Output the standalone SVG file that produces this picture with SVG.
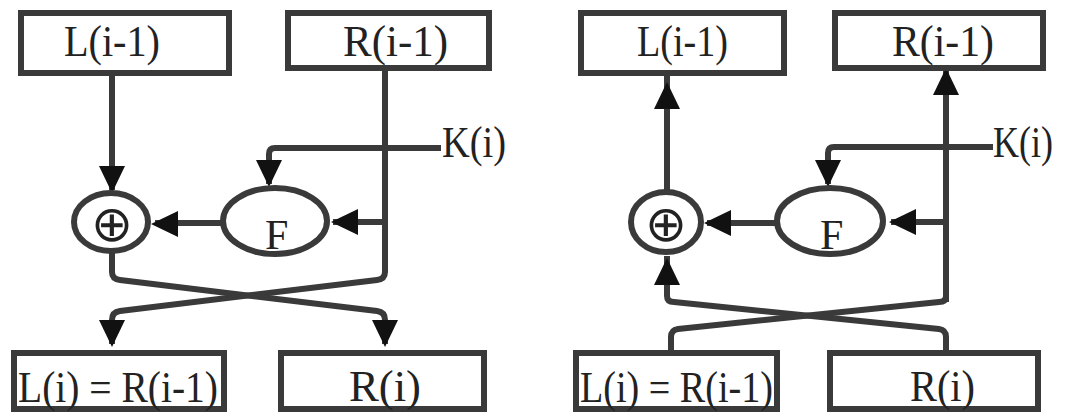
<svg xmlns="http://www.w3.org/2000/svg" width="1065" height="412" viewBox="0 0 1065 412">
<defs>
<style>
.box{fill:#fff;stroke:#3a3a3a;stroke-width:6}
.ell{fill:#fff;stroke:#3a3a3a;stroke-width:6}
.ln{fill:none;stroke:#3a3a3a;stroke-width:6;stroke-linejoin:round}
.t{font-family:"Liberation Serif","Times New Roman",serif;font-size:44px;fill:#222}
.f{font-family:"Liberation Serif","Times New Roman",serif;font-size:42px;fill:#222}
.x{font-family:"DejaVu Sans",sans-serif;font-size:50px;fill:#222;text-anchor:middle}
.ah{fill:#111}
</style>
<path id="ah" d="M0,0 L-27,-13 L-27,13 Z"/>
</defs>
<rect width="1065" height="412" fill="#fff"/>

<g id="connectors">
  <!-- left: encryption -->
  <path class="ln" d="M112,76 V190"/>
  <path class="ln" d="M385,71 V272 Q385,279 377,280 L120,311 Q112,312 112,320 V344"/>
  <path class="ln" d="M112,251 V272 Q112,279 120,280 L377,311 Q385,312 385,320 V344"/>
  <path class="ln" d="M441,148 H275 Q269,148 269,154 V184"/>
  <path class="ln" d="M222,223 H155"/>
  <path class="ln" d="M385,222 H333"/>
  <use class="ah" href="#ah" transform="translate(112,193) rotate(90)"/>
  <use class="ah" href="#ah" transform="translate(269,187) rotate(90)"/>
  <use class="ah" href="#ah" transform="translate(151,224) rotate(180)"/>
  <use class="ah" href="#ah" transform="translate(331,222) rotate(180)"/>
  <use class="ah" href="#ah" transform="translate(112,347) rotate(90)"/>
  <use class="ah" href="#ah" transform="translate(385,347) rotate(90)"/>
  <!-- right: decryption -->
  <path class="ln" d="M667,192 V76"/>
  <path class="ln" d="M946,302 V71"/>
  <path class="ln" d="M946,71 V296 Q946,302 939,302 L678,329 Q671,330 671,337 V353"/>
  <path class="ln" d="M667,256 V296 Q667,302 674,302 L939,329 Q946,330 946,337 V353"/>
  <path class="ln" d="M993,147 H834 Q828,147 828,153 V184"/>
  <path class="ln" d="M776,223 H707"/>
  <path class="ln" d="M946,222 H891"/>
  <use class="ah" href="#ah" transform="translate(667,82) rotate(-90)"/>
  <use class="ah" href="#ah" transform="translate(946,68) rotate(-90)"/>
  <use class="ah" href="#ah" transform="translate(828,187) rotate(90)"/>
  <use class="ah" href="#ah" transform="translate(704,223) rotate(180)"/>
  <use class="ah" href="#ah" transform="translate(889,222) rotate(180)"/>
  <use class="ah" href="#ah" transform="translate(667,258) rotate(-90)"/>
</g>

<!-- left diagram nodes -->
<g id="enc-L-prev">
  <rect class="box" x="21" y="13" width="208" height="60"/>
  <text class="t" x="64" y="56" textLength="96" lengthAdjust="spacingAndGlyphs">L(i-1)</text>
</g>
<g id="enc-R-prev">
  <rect class="box" x="288" y="13" width="201" height="55"/>
  <text class="t" x="343" y="56" textLength="105" lengthAdjust="spacingAndGlyphs">R(i-1)</text>
</g>
<g id="enc-K">
  <text class="t" x="442" y="157" textLength="64" lengthAdjust="spacingAndGlyphs">K(i)</text>
</g>
<g id="enc-xor">
  <ellipse class="ell" cx="111" cy="222" rx="37" ry="29"/>
  <text class="x" x="112" y="241">⊕</text>
</g>
<g id="enc-F">
  <ellipse class="ell" cx="275" cy="221" rx="52" ry="33"/>
  <text class="f" x="265" y="249">F</text>
</g>
<g id="enc-L-new">
  <rect class="box" x="14" y="353" width="210" height="56"/>
  <text class="t" x="18" y="402" textLength="200" lengthAdjust="spacingAndGlyphs">L(i) = R(i-1)</text>
</g>
<g id="enc-R-new">
  <rect class="box" x="281" y="353" width="203" height="56"/>
  <text class="t" x="349" y="401" textLength="72" lengthAdjust="spacingAndGlyphs">R(i)</text>
</g>

<!-- right diagram nodes -->
<g id="dec-L-prev">
  <rect class="box" x="581" y="13" width="203" height="60"/>
  <text class="t" x="637" y="56" textLength="91" lengthAdjust="spacingAndGlyphs">L(i-1)</text>
</g>
<g id="dec-R-prev">
  <rect class="box" x="835" y="13" width="208" height="55"/>
  <text class="t" x="892" y="56" textLength="102" lengthAdjust="spacingAndGlyphs">R(i-1)</text>
</g>
<g id="dec-K">
  <text class="t" x="993" y="157" textLength="60" lengthAdjust="spacingAndGlyphs">K(i)</text>
</g>
<g id="dec-xor">
  <ellipse class="ell" cx="666" cy="222" rx="35" ry="30"/>
  <text class="x" x="666" y="241">⊕</text>
</g>
<g id="dec-F">
  <ellipse class="ell" cx="830" cy="221" rx="53" ry="33"/>
  <text class="f" x="820" y="249">F</text>
</g>
<g id="dec-L-new">
  <rect class="box" x="576" y="353" width="201" height="56"/>
  <text class="t" x="580" y="402" textLength="193" lengthAdjust="spacingAndGlyphs">L(i) = R(i-1)</text>
</g>
<g id="dec-R-new">
  <rect class="box" x="830" y="353" width="208" height="56"/>
  <text class="t" x="910" y="401" textLength="65" lengthAdjust="spacingAndGlyphs">R(i)</text>
</g>
</svg>
